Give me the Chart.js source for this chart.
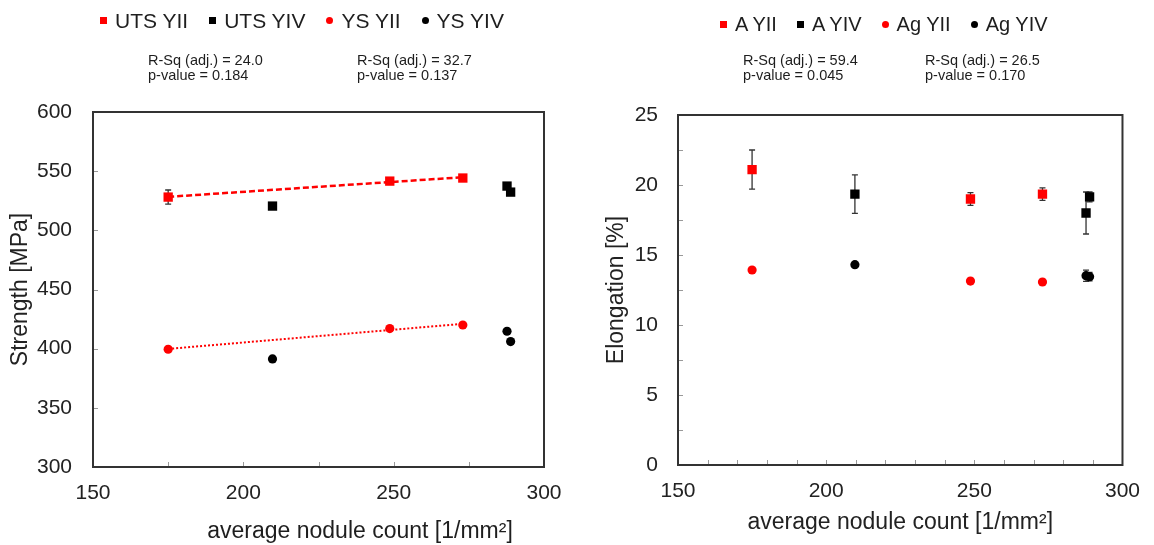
<!DOCTYPE html>
<html>
<head>
<meta charset="utf-8">
<script src="https://cdn.jsdelivr.net/npm/chart.js@4.4.1/dist/chart.umd.min.js"></script>
<style>
  body { margin: 0; background: #fff; font-family: "Liberation Sans", Arial, sans-serif; color: #1e1e1e; }
  #page { position: relative; width: 1154px; height: 545px; overflow: hidden; }
  canvas { position: absolute; top: 0; }
  .legend { position: absolute; display: flex; align-items: center; white-space: nowrap; }
  .legend span { display: flex; align-items: center; }
  .sq, .dot { display: inline-block; width: 7px; height: 7px; margin-right: 8px; }
  .dot { border-radius: 50%; }
  .red { background: #ff0000; }
  .blk { background: #000; }
  .stats { position: absolute; font-size: 14.5px; line-height: 15px; white-space: nowrap; }
  .xtitle { position: absolute; font-size: 23px; line-height: 27px; white-space: nowrap; transform: translateX(-50%); }
</style>
</head>
<body>
<div id="page">
  <canvas id="strength" width="577" height="545" style="left:0"></canvas>
  <canvas id="elongation" width="577" height="545" style="left:577px"></canvas>

  <div class="legend" style="left:100px; top:8px; font-size:21px; line-height:25px;">
    <span style="margin-right:21px"><i class="sq red"></i>UTS YII</span>
    <span style="margin-right:21px"><i class="sq blk"></i>UTS YIV</span>
    <span style="margin-right:21px"><i class="dot red"></i>YS YII</span>
    <span><i class="dot blk"></i>YS YIV</span>
  </div>
  <div class="stats" style="left:148px; top:53px;">R-Sq (adj.) = 24.0<br>p-value = 0.184</div>
  <div class="stats" style="left:357px; top:53px;">R-Sq (adj.) = 32.7<br>p-value = 0.137</div>
  <div class="xtitle" style="left:360px; top:517px;">average nodule count [1/mm²]</div>

  <div class="legend" style="left:720px; top:12px; font-size:20px; line-height:24px;">
    <span style="margin-right:20px"><i class="sq red"></i>A YII</span>
    <span style="margin-right:20px"><i class="sq blk"></i>A YIV</span>
    <span style="margin-right:20px"><i class="dot red"></i>Ag YII</span>
    <span><i class="dot blk"></i>Ag YIV</span>
  </div>
  <div class="stats" style="left:743px; top:53px;">R-Sq (adj.) = 59.4<br>p-value = 0.045</div>
  <div class="stats" style="left:925px; top:53px;">R-Sq (adj.) = 26.5<br>p-value = 0.170</div>
</div>

<script>
// nodule counts of the samples (1/mm²)
const countYII = [175.0, 248.7, 273.0];
const countYIV = [209.7, 287.7, 288.9];

// strength (MPa)
const utsYII = [528.1, 541.6, 544.2];
const utsYIIErr = [6.0, 1.0, 1.0];
const utsYIV = [520.5, 537.4, 532.3];
const ysYII = [399.5, 417.0, 420.0];
const ysYIV = [391.3, 414.7, 406.0];

// linear fits over YII
const fitCount = [175, 273];
const utsYIIFit = [528.3, 544.9];
const ysYIIFit = [399.8, 421.0];

// elongation (%)
const aYII = [21.1, 19.0, 19.35];
const aYIIErr = [1.4, 0.45, 0.45];
const aYIV = [19.35, 18.0, 19.15];
const aYIVErr = [1.37, 1.5, 0.35];
const agYII = [13.93, 13.14, 13.07];
const agYIV = [14.31, 13.52, 13.45];
const agYIVErr = [0, 0.4, 0.3];

const countTicks = [150, 200, 250, 300];
const strengthTicks = [300, 350, 400, 450, 500, 550, 600];
const elongationTicks = [0, 5, 10, 15, 20, 25];

Chart.defaults.font.family = '"Liberation Sans", Arial, sans-serif';
Chart.defaults.color = '#1e1e1e';

const points = (xs, ys) => xs.map((x, i) => ({ x: x, y: ys[i] }));

const framePlugin = {
    id: 'frame',
    beforeDatasetsDraw(chart) {
        const ctx = chart.ctx;
        const y = chart.scales.y;
        ctx.save();
        ctx.strokeStyle = '#333';
        ctx.lineWidth = 1.3;
        chart.data.datasets.forEach((ds, i) => {
            if (!ds.errors) return;
            chart.getDatasetMeta(i).data.forEach((pt, j) => {
                const e = ds.errors[j];
                if (!e) return;
                const v = ds.data[j].y;
                const top = y.getPixelForValue(v + e);
                const bot = y.getPixelForValue(v - e);
                ctx.beginPath();
                ctx.moveTo(pt.x, top); ctx.lineTo(pt.x, bot);
                ctx.moveTo(pt.x - 3, top); ctx.lineTo(pt.x + 3, top);
                ctx.moveTo(pt.x - 3, bot); ctx.lineTo(pt.x + 3, bot);
                ctx.stroke();
            });
        });
        ctx.restore();
    },
    afterDraw(chart, args, opts) {
        const { ctx, chartArea: a, scales: { x, y } } = chart;
        ctx.save();
        ctx.strokeStyle = '#999';
        ctx.lineWidth = 1;
        ctx.beginPath();
        for (let v = x.min + opts.xStep; v < x.max - 0.01; v += opts.xStep) {
            const px = Math.round(x.getPixelForValue(v)) + 0.5;
            ctx.moveTo(px, a.bottom); ctx.lineTo(px, a.bottom - 5);
        }
        for (let v = y.min + opts.yStep; v < y.max - 0.01; v += opts.yStep) {
            const py = Math.round(y.getPixelForValue(v)) + 0.5;
            ctx.moveTo(a.left, py); ctx.lineTo(a.left + 5, py);
        }
        ctx.stroke();
        ctx.strokeStyle = '#333';
        ctx.lineWidth = 2;
        ctx.strokeRect(a.left, a.top, a.right - a.left, a.bottom - a.top);
        ctx.restore();
    }
};

function panelOptions(cfg) {
    const tickFont = { size: 21 };
    return {
        responsive: false,
        animation: false,
        events: [],
        layout: { padding: { top: cfg.top, right: cfg.right, left: 0, bottom: 0 } },
        plugins: {
            legend: { display: false },
            tooltip: { enabled: false },
            frame: { xStep: cfg.xStep, yStep: cfg.yStep }
        },
        scales: {
            x: {
                type: 'linear',
                min: countTicks[0],
                max: countTicks[countTicks.length - 1],
                afterBuildTicks: s => { s.ticks = countTicks.map(v => ({ value: v })); },
                afterFit: s => { s.height = cfg.xHeight; },
                grid: { display: false, drawTicks: false },
                border: { display: false },
                ticks: { font: tickFont, color: '#222', padding: 14, maxRotation: 0, autoSkip: false },
                title: cfg.xTitle
                    ? { display: true, text: cfg.xTitle, font: { size: 23 }, color: '#222', padding: { bottom: 9 } }
                    : { display: false }
            },
            y: {
                type: 'linear',
                min: cfg.yTicks[0],
                max: cfg.yTicks[cfg.yTicks.length - 1],
                afterBuildTicks: s => { s.ticks = cfg.yTicks.map(v => ({ value: v })); },
                afterFit: s => { s.width = cfg.yWidth; },
                grid: { display: false, drawTicks: false },
                border: { display: false },
                ticks: { font: tickFont, color: '#222', padding: cfg.yPad, autoSkip: false },
                title: { display: true, text: cfg.yTitle, font: { size: 23 }, color: '#222', padding: { top: cfg.yTitlePad } }
            }
        }
    };
}

const squareStyle = { pointStyle: 'rect', pointRadius: 6.6, borderWidth: 0 };
const dotStyle = { pointStyle: 'circle', pointRadius: 4.6, borderWidth: 0 };

new Chart(document.getElementById('strength'), {
    type: 'scatter',
    data: {
        datasets: [
            { label: 'UTS YII', data: points(countYII, utsYII), errors: utsYIIErr, backgroundColor: '#ff0000', ...squareStyle },
            { label: 'UTS YIV', data: points(countYIV, utsYIV), backgroundColor: '#000', ...squareStyle },
            { label: 'YS YII', data: points(countYII, ysYII), backgroundColor: '#ff0000', ...dotStyle },
            { label: 'YS YIV', data: points(countYIV, ysYIV), backgroundColor: '#000', ...dotStyle },
            { label: 'UTS fit', data: points(fitCount, utsYIIFit), showLine: true, pointRadius: 0,
              borderColor: '#ff0000', borderWidth: 2.5, borderDash: [6, 3] },
            { label: 'YS fit', data: points(fitCount, ysYIIFit), showLine: true, pointRadius: 0,
              borderColor: '#ff0000', borderWidth: 2, borderDash: [2, 2] }
        ]
    },
    options: panelOptions({
        top: 112, right: 33, xHeight: 78, yWidth: 93, yPad: 21,
        xStep: 25, yStep: 50, yTicks: strengthTicks,
        yTitle: 'Strength [MPa]', yTitlePad: 7
    }),
    plugins: [framePlugin]
});

new Chart(document.getElementById('elongation'), {
    type: 'scatter',
    data: {
        datasets: [
            { label: 'A YII', data: points(countYII, aYII), errors: aYIIErr, backgroundColor: '#ff0000', ...squareStyle },
            { label: 'A YIV', data: points(countYIV, aYIV), errors: aYIVErr, backgroundColor: '#000', ...squareStyle },
            { label: 'Ag YII', data: points(countYII, agYII), backgroundColor: '#ff0000', ...dotStyle },
            { label: 'Ag YIV', data: points(countYIV, agYIV), errors: agYIVErr, backgroundColor: '#000', ...dotStyle }
        ]
    },
    options: panelOptions({
        top: 115, right: 27, xHeight: 80, yWidth: 101, yPad: 20,
        xStep: 10, yStep: 2.5, yTicks: elongationTicks,
        yTitle: 'Elongation [%]', yTitlePad: 26,
        xTitle: 'average nodule count [1/mm²]'
    }),
    plugins: [framePlugin]
});
</script>
</body>
</html>
